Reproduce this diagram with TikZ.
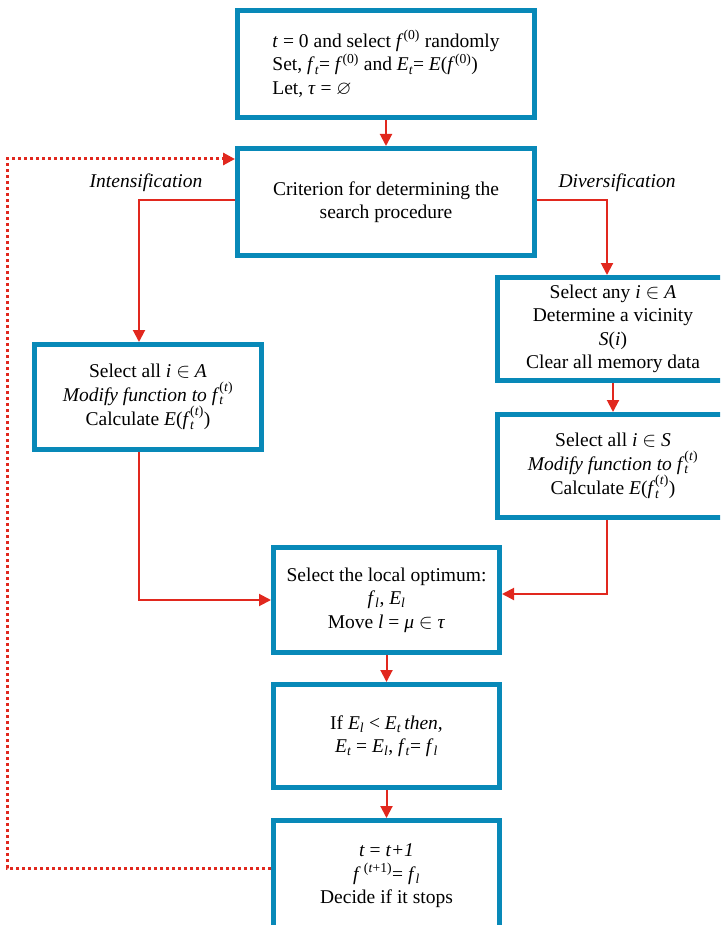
\documentclass[tikz,border=0pt]{standalone}
\usepackage{fontspec}
\setmainfont{Liberation Serif}
\usepackage{amsmath,amssymb}
\usetikzlibrary{arrows.meta}
\definecolor{boxblue}{RGB}{8,137,184}
\definecolor{arrred}{RGB}{225,40,30}
\newcommand\vi[1]{\textit{#1}}
\newcommand\lsub[1]{\ensuremath{_{\text{\itshape #1}}}}
\newcommand\lsup[1]{\ensuremath{^{\text{#1}}}}
\newcommand\ftt{\vi{f}\ensuremath{_{\text{\itshape t}}^{\text{(\itshape t\/\upshape)}}}}
\begin{document}
\begin{tikzpicture}[x=1pt,y=-1pt,
  box/.style={draw=boxblue,line width=5pt,fill=white,align=center,inner sep=0pt,
    font=\fontsize{19.5}{23.5}\selectfont},
  lab/.style={font=\fontsize{19.5}{22}\selectfont\itshape},
  conn/.style={draw=arrred,line width=2pt,-{Triangle[length=12pt,width=12pt]}},
  loop/.style={conn,line width=3pt,dash pattern=on 3pt off 3pt}]
\path[use as bounding box] (0,0) rectangle (720,925);
\clip (0,0) rectangle (720,925);

\node[box,minimum width=297pt,minimum height=107pt,align=left] (b1) at (386,64)
  {\vi{t} = 0 and select \vi{f}\lsup{(0)} randomly\\
   Set, \vi{f}\lsub{t}= \vi{f}\lsup{(0)} and \vi{E}\lsub{t}= \vi{E}(\vi{f}\lsup{(0)})\\
   Let, \vi{τ} = $\varnothing$};
\node[box,minimum width=297pt,minimum height=107pt] (b2) at (386,202)
  {Criterion for determining the\\ search procedure};
\node[box,minimum width=227pt,minimum height=105pt] (b3) at (148,397)
  {Select all \vi{i} $\in$ \vi{A}\\
   \vi{Modify function to} \ftt\\
   Calculate \vi{E}(\ftt)};
\node[box,minimum width=231pt,minimum height=103pt] (b4) at (613,329)
  {Select any \vi{i} $\in$ \vi{A}\\ Determine a vicinity\\ \vi{S}(\vi{i})\\ Clear all memory data};
\node[box,minimum width=231pt,minimum height=103pt] (b5) at (613,466)
  {Select all \vi{i} $\in$ \vi{S}\\
   \vi{Modify function to} \ftt\\
   Calculate \vi{E}(\ftt)};
\node[box,minimum width=226pt,minimum height=105pt] (b6) at (386.5,600)
  {Select the local optimum:\\
   \vi{f}\lsub{l}, \vi{E}\lsub{l}\\
   Move \vi{l} = \vi{μ} $\in$ \vi{τ}};
\node[box,minimum width=226pt,minimum height=103pt] (b7) at (386.5,736)
  {If \vi{E}\lsub{l} < \vi{E}\lsub{t}\,\vi{then,}\\
   \vi{E}\lsub{t} = \vi{E}\lsub{l}, \vi{f}\lsub{t}= \vi{f}\lsub{l}};
\node[box,minimum width=226pt,minimum height=111pt] (b8) at (386.5,876)
  {\vi{t} = \vi{t+1}\\
   \vi{f}\,\lsup{(\itshape t\/\upshape+1)}= \vi{f}\lsub{l}\\
   Decide if it stops};

\node[lab] (lint) at (146,183) {Intensification};
\node[lab] (ldiv) at (617,183) {Diversification};

\draw[conn] (b1) -- (b2);
\draw[conn] ([yshift=2pt]b2.west) -| ([xshift=-9pt]b3.north);
\draw[conn] ([yshift=2pt]b2.east) -| ([xshift=-6pt]b4.north);
\draw[conn] (b4) -- (b5);
\draw[conn] ([xshift=-9pt]b3.south) |- (b6.west);
\draw[conn] ([xshift=-6pt]b5.south) |- ([yshift=6pt]b6.east);
\draw[conn] (b6) -- (b7);
\draw[conn] (b7) -- (b8);
\coordinate (c1) at (7,868);
\coordinate (c2) at (7,159);
\draw[loop] ([yshift=8pt]b8.west) -- (c1) -- (c2) -- (c2 -| b2.west);
\end{tikzpicture}
\end{document}
